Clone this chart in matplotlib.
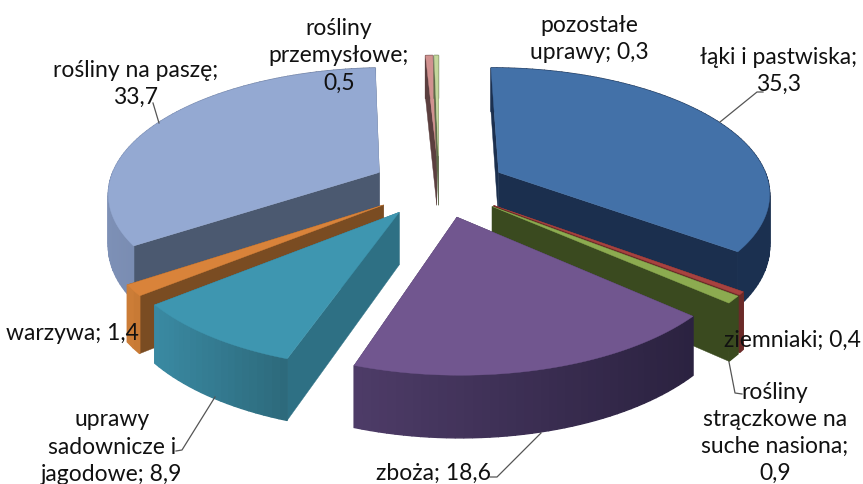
import numpy as np
import matplotlib
matplotlib.use("Agg")
import matplotlib.pyplot as plt
from matplotlib.patches import Polygon

plt.rcParams['font.family'] = ['Lato', 'DejaVu Sans']

names = ["łąki i pastwiska", "ziemniaki", "rośliny strączkowe", "zboża", "uprawy sadownicze",
         "warzywa", "rośliny na paszę", "rośliny przemysłowe", "pozostałe uprawy"]
values = [35.3, 0.4, 0.9, 18.6, 8.9, 1.4, 33.7, 0.5, 0.3]
top_colors = ["#4371a8", "#a8423f", "#8cab50", "#71568f", "#3e96b0", "#d9833a", "#94a9d2", "#d19290", "#c4d79c"]
wall_colors = ["#1b2f4e", "#6b2a28", "#3a4a1f", "#43345a", "#2e7084", "#7a4c22", "#4b5970", "#5b3f3f", "#5f6b4a"]
rim_left = ["#1b3050", "#6b2a28", "#3a4a1f", "#4e3c68", "#3a8aa3", "#d07f38", "#7d90b6", "#5b3f3f", "#5f6b4a"]
rim_right = ["#1b3050", "#6b2a28", "#3a4a1f", "#2b2240", "#2d6a7c", "#c87a35", "#5e6d8c", "#5b3f3f", "#5f6b4a"]
# painter's order, back to front
draw_order = [7, 8, 6, 0, 5, 1, 2, 4, 3]

labels = ["łąki i pastwiska;\n35,3", "ziemniaki; 0,4", "rośliny\nstrączkowe na\nsuche nasiona;\n0,9", "zboża; 18,6",
          "uprawy\nsadownicze i\njagodowe; 8,9", "warzywa; 1,4", "rośliny na paszę;\n33,7",
          "rośliny\nprzemysłowe;\n0,5", "pozostałe\nuprawy; 0,3"]
label_pos = [(779, 71), (792, 340), (775, 433), (433, 473), (112, 447), (72, 333), (136, 84), (339, 56), (589, 39)]
leaders = [[(720, 122), (757, 92), (763, 92)],
           [(729, 362), (735, 393), (742, 394)],
           [(541, 433), (497, 477), (490, 477)],
           [(215, 397), (182, 450), (176, 451)],
           [(153, 103), (159, 123)]]

CX, CY = 439, 186
A, B, P = 271, 124, 0.15
EXPLODE = 0.25
HEIGHT = 51


def project(x, y, z=0.0):
    w = 1 / (1 + P * y)
    return CX + A * x * w, CY - B * y * w + HEIGHT * z * w


def mix(c1, c2, t):
    a = np.array(matplotlib.colors.to_rgb(c1))
    b = np.array(matplotlib.colors.to_rgb(c2))
    return tuple(a + (b - a) * t)


fig = plt.figure(figsize=(8.63, 4.84), dpi=100)
ax = fig.add_axes([0, 0, 1, 1])
ax.set_xlim(0, 863)
ax.set_ylim(484, 0)
ax.axis("off")

edges = np.cumsum([0] + values) / sum(values) * 2 * np.pi

for i in draw_order:
    a0, a1 = edges[i], edges[i + 1]
    mid = (a0 + a1) / 2
    ox, oy = EXPLODE * np.sin(mid), EXPLODE * np.cos(mid)
    t = np.linspace(a0, a1, max(int((a1 - a0) * 40), 2))
    xs, ys = ox + np.sin(t), oy + np.cos(t)

    # side walls
    for x, y in [(xs[0], ys[0]), (xs[-1], ys[-1])]:
        quad = [project(ox, oy), project(x, y), project(x, y, 1), project(ox, oy, 1)]
        ax.add_patch(Polygon(quad, closed=True, fc=wall_colors[i], ec=wall_colors[i], lw=0.3))

    # outer rim, shaded left to right on screen
    rim_x = [project(x, y)[0] for x, y in zip(xs, ys)]
    x_lo, x_hi = min(rim_x), max(rim_x)
    for k in range(len(t) - 1):
        quad = [project(xs[k], ys[k]), project(xs[k + 1], ys[k + 1]),
                project(xs[k + 1], ys[k + 1], 1), project(xs[k], ys[k], 1)]
        c = mix(rim_left[i], rim_right[i], (rim_x[k] - x_lo) / max(x_hi - x_lo, 1))
        ax.add_patch(Polygon(quad, closed=True, fc=c, ec=c, lw=1.0))

    # top face
    top = [project(ox, oy)] + [project(x, y) for x, y in zip(xs, ys)]
    ax.add_patch(Polygon(top, closed=True, fc=top_colors[i], ec=top_colors[i], lw=0.3))

for pts in leaders:
    ax.plot([p[0] for p in pts], [p[1] for p in pts], color="#555555", lw=0.9)

for txt, (x, y) in zip(labels, label_pos):
    ax.text(x, y, txt, ha="center", va="center", fontsize=16.5, color="#111111", linespacing=1.36)

fig.savefig("out.png", dpi=100)
